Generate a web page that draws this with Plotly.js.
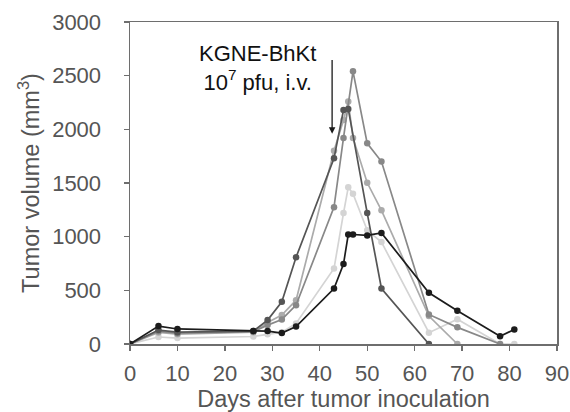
<!DOCTYPE html>
<html>
<head>
<meta charset="utf-8">
<script src="https://cdn.plot.ly/plotly-3.0.1.min.js"></script>
<style>html,body{margin:0;padding:0;background:#fff;}#chart{width:570px;height:412px;}</style>
</head>
<body>
<div id="chart"></div>
<script>
// Mouse A (black)
const daysA = [0, 6, 10, 26, 29, 32, 35, 43, 45, 46, 47, 50, 53, 63, 69, 78, 81];
const volA  = [0, 167, 140, 122, 120, 102, 163, 517, 745, 1020, 1020, 1012, 1035, 477, 310, 72, 136];
// Mouse B (dark gray)
const daysB = [0, 6, 10, 26, 29, 32, 35, 43, 45, 46, 50, 53, 63];
const volB  = [0, 130, 110, 120, 223, 393, 808, 1730, 2180, 2190, 1220, 517, 0];
// Mouse C (medium gray)
const daysC = [0, 6, 10, 26, 29, 32, 35, 43, 45, 47, 50, 53, 63, 69, 78];
const volC  = [0, 118, 100, 115, 176, 229, 362, 1275, 1920, 2540, 1870, 1700, 275, 155, 0];
// Mouse D (light-medium gray)
const daysD = [0, 6, 10, 26, 29, 32, 35, 43, 45, 46, 47, 50, 53, 63, 69];
const volD  = [0, 108, 92, 110, 200, 270, 408, 1800, 2087, 2260, 1920, 1502, 1245, 260, 0];
// Mouse E (light gray)
const daysE = [0, 6, 10, 26, 29, 32, 35, 43, 45, 46, 47, 50, 53, 63, 69, 78, 81];
const volE  = [0, 65, 55, 70, 90, 110, 192, 703, 1220, 1460, 1400, 1060, 950, 105, 230, 0, 0];

const xTicks = [0, 10, 20, 30, 40, 50, 60, 70, 80, 90];
const yTicks = [0, 500, 1000, 1500, 2000, 2500, 3000];

const series = [
  {x: daysE, y: volE, c: '#d4d4d4'},
  {x: daysD, y: volD, c: '#ababab'},
  {x: daysC, y: volC, c: '#888888'},
  {x: daysB, y: volB, c: '#555555'},
  {x: daysA, y: volA, c: '#1c1c1c'}
];

const traces = series.map(s => ({
  x: s.x, y: s.y, type: 'scatter', mode: 'lines+markers',
  line: {color: s.c, width: 1.7},
  marker: {color: s.c, size: 6.5},
  showlegend: false, hoverinfo: 'skip'
}));

const FONT = 'Liberation Sans, Arial, sans-serif';
const axisCommon = {
  showgrid: false, zeroline: false, showline: true, mirror: true,
  linecolor: '#6e6e6e', linewidth: 1.5,
  ticks: 'outside', ticklen: 5, tickwidth: 1.3, tickcolor: '#6e6e6e',
  tickfont: {family: FONT, size: 22, color: '#555555'}
};

const layout = {
  width: 570, height: 412,
  margin: {l: 130, r: 13, t: 22, b: 68},
  paper_bgcolor: '#ffffff', plot_bgcolor: '#ffffff',
  xaxis: Object.assign({}, axisCommon, {
    range: [0, 90], tickvals: xTicks, ticklabelstandoff: 4,
    title: {text: 'Days after tumor inoculation', standoff: 4,
            font: {family: FONT, size: 23.5, color: '#555555'}}
  }),
  yaxis: Object.assign({}, axisCommon, {
    range: [0, 3000], tickvals: yTicks, ticklabelstandoff: 18,
    title: {text: 'Tumor volume (mm<sup>3</sup>)', standoff: 6,
            font: {family: FONT, size: 23.5, color: '#555555'}}
  }),
  annotations: [
    {x: 26.8, y: 2575, xref: 'x', yref: 'y', showarrow: false,
     text: 'KGNE-BhKt<br>10<sup>7</sup> pfu, i.v.', align: 'center',
     xanchor: 'center', yanchor: 'middle',
     font: {family: FONT, size: 22, color: '#111111'}},
    {x: 42.6, y: 1960, xref: 'x', yref: 'y', ax: 42.6, ay: 2660, axref: 'x', ayref: 'y',
     showarrow: true, arrowhead: 2, arrowsize: 1, arrowwidth: 1.3, arrowcolor: '#1a1a1a', text: ''}
  ]
};

Plotly.newPlot('chart', traces, layout, {staticPlot: true, displayModeBar: false});
</script>
</body>
</html>
